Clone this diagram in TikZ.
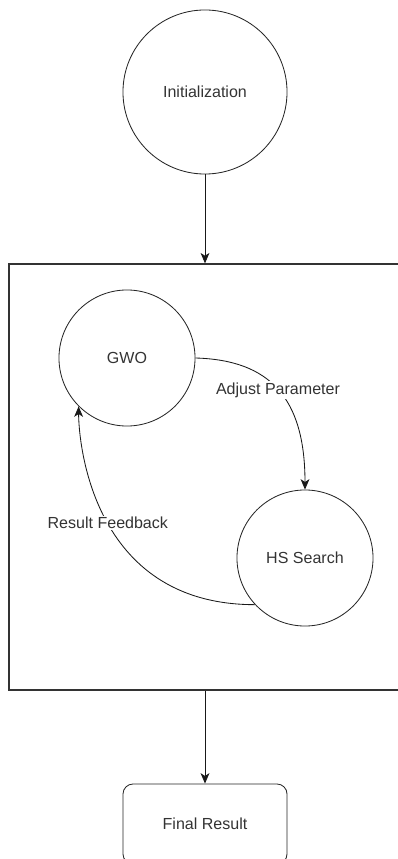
\documentclass[tikz,border=0pt]{standalone}
\usepackage{fontspec}
\setmainfont{Liberation Sans}
\usetikzlibrary{positioning, arrows.meta, shapes.geometric}
\tikzstyle{stage} = [circle, draw=black!85, line width=0.6pt, minimum size=3.4cm, text=black!80, font=\fontsize{11.4}{13.7}\selectfont]
\tikzstyle{frame} = [rectangle, draw=black!80, line width=0.8pt, minimum width=10.3cm, minimum height=10.65cm]
\tikzstyle{outcome} = [rectangle, rounded corners=0.25cm, draw=black!85, line width=0.6pt, minimum width=4.1cm, minimum height=2cm, text=black!80, font=\fontsize{11.4}{13.7}\selectfont]
\tikzstyle{lbl} = [fill=white, inner sep=1pt, text=black!80, font=\fontsize{11.4}{13.7}\selectfont]
\tikzstyle{arrow} = [line width=0.6pt, draw=black!90, ->, >={Stealth[length=2.6mm, width=2.2mm, inset=0.7mm]}]

\begin{document}
\begin{tikzpicture}[x=0.025cm, y=-0.025cm]
				\useasboundingbox (0,0) rectangle (397,859);
				\node[frame] (loop) at (215,477) {};
				\node[stage, minimum size=4.1cm] (init) at (205,92) {Initialization};
				\node[stage] (gwo) at (127,358) {GWO};
				\node[stage] (hs) at (305,558) {HS Search};
				\node[outcome] (final) at (205,824) {Final Result};
				\draw[arrow] (init) -- (init |- loop.north);
				\draw[arrow] (loop.south -| final) -- (final);
				% loop between the two searches
				\draw[arrow] (gwo.east) .. controls +(74,2) and +(0,-92) .. node[lbl, pos=0.5] {Adjust Parameter} (hs.north);
				\draw[arrow] (hs.223) .. controls +(-165,0) and +(0,32) .. node[lbl, pos=0.48] {Result Feedback} (gwo.225);
			\end{tikzpicture}
\end{document}
